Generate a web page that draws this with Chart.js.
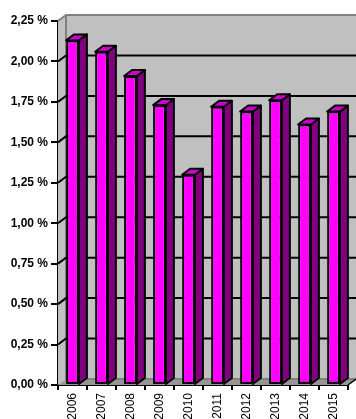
<!DOCTYPE html>
<html>
<head>
<meta charset="utf-8">
<script src="https://cdn.jsdelivr.net/npm/chart.js@4/dist/chart.umd.min.js"></script>
<style>
  html, body { margin: 0; padding: 0; background: #fff; overflow: hidden; }
</style>
</head>
<body>
<canvas id="c" width="356" height="419"></canvas>
<script>
// Data
const years = ['2006', '2007', '2008', '2009', '2010', '2011', '2012', '2013', '2014', '2015'];
const rates = [2.13, 2.06, 1.91, 1.73, 1.30, 1.72, 1.69, 1.76, 1.61, 1.69];
const yTicks = [0, 0.25, 0.5, 0.75, 1, 1.25, 1.5, 1.75, 2, 2.25];

// 3D depth offset
const DX = 8, DY = 6;

const poly = (ctx, pts, fill, stroke, lw) => {
    ctx.beginPath();
    ctx.moveTo(pts[0][0], pts[0][1]);
    for (let i = 1; i < pts.length; i++) ctx.lineTo(pts[i][0], pts[i][1]);
    ctx.closePath();
    if (fill) { ctx.fillStyle = fill; ctx.fill(); }
    if (stroke) { ctx.strokeStyle = stroke; ctx.lineWidth = lw || 1; ctx.stroke(); }
};

// walls, floor and gridlines behind the bars
const wall3d = {
    id: 'wall3d',
    beforeDatasetsDraw(chart) {
        const { ctx, chartArea: a, scales: { y } } = chart;
        const W = chart.width;
        ctx.save();
        // back wall
        ctx.fillStyle = '#c0c0c0';
        ctx.fillRect(a.left + DX, a.top - DY, W - a.left - DX, a.bottom - a.top);
        // left side wall
        poly(ctx, [[a.left, a.top], [a.left + DX, a.top - DY], [a.left + DX, a.bottom - DY], [a.left, a.bottom]], '#c0c0c0');
        // floor
        poly(ctx, [[a.left, a.bottom], [a.left + DX, a.bottom - DY], [W, a.bottom - DY], [a.right, a.bottom]], '#969696');
        // wall edges
        ctx.strokeStyle = '#808080';
        ctx.lineWidth = 2;
        ctx.beginPath();
        ctx.moveTo(a.left, a.top);
        ctx.lineTo(a.left + DX, a.top - DY);
        ctx.lineTo(W, a.top - DY);
        ctx.moveTo(a.left + DX, a.top - DY);
        ctx.lineTo(a.left + DX, a.bottom - DY);
        ctx.lineTo(W, a.bottom - DY);
        ctx.stroke();
        // gridlines
        ctx.strokeStyle = '#000';
        ctx.lineWidth = 2;
        yTicks.forEach(v => {
            if (v === 0 || v === yTicks[yTicks.length - 1]) return;
            const py = y.getPixelForValue(v);
            ctx.beginPath();
            ctx.moveTo(a.left, py);
            ctx.lineTo(a.left + DX, py - DY);
            ctx.lineTo(W, py - DY);
            ctx.stroke();
        });
        // right end of the floor
        ctx.lineWidth = 1.5;
        ctx.beginPath();
        ctx.moveTo(a.right, a.bottom);
        ctx.lineTo(a.right + DX, a.bottom - DY);
        ctx.stroke();
        ctx.restore();
    },
    afterDatasetsDraw(chart) {
        const ctx = chart.ctx;
        const meta = chart.getDatasetMeta(0);
        ctx.save();
        ctx.lineJoin = 'round';
        meta.data.forEach(bar => {
            const { x, y, base, width } = bar.getProps(['x', 'y', 'base', 'width'], true);
            const l = x - width / 2, r = x + width / 2;
            // side face
            poly(ctx, [[r, y], [r + DX, y - DY], [r + DX, base - DY], [r, base]], '#800080', '#000', 2);
            // top face
            poly(ctx, [[l, y], [l + DX, y - DY], [r + DX, y - DY], [r, y]], '#cc00cc', '#000', 2);
        });
        ctx.restore();
    }
};

const ctx = document.getElementById('c').getContext('2d');
new Chart(ctx, {
    type: 'bar',
    data: {
        labels: years,
        datasets: [{
            data: rates,
            backgroundColor: '#ff00ff',
            borderColor: '#000',
            borderWidth: 2,
            borderSkipped: false,
            barPercentage: 0.44,
            categoryPercentage: 1
        }]
    },
    options: {
        responsive: false,
        animation: false,
        devicePixelRatio: 1,
        layout: { padding: { top: 21, right: 8, left: 0, bottom: 0 } },
        plugins: {
            legend: { display: false },
            tooltip: { enabled: false }
        },
        scales: {
            y: {
                min: 0,
                max: 2.25,
                afterFit: s => { s.width = 58; },
                afterBuildTicks: s => { s.ticks = yTicks.map(v => ({ value: v })); },
                ticks: {
                    color: '#000',
                    padding: 3,
                    font: { family: 'Liberation Sans, Arial', size: 12, weight: 'bold' },
                    callback: v => v.toFixed(2).replace('.', ',') + ' %'
                },
                grid: { drawOnChartArea: false, color: '#000', lineWidth: 2, tickLength: 7 },
                border: { color: '#000', width: 2 }
            },
            x: {
                afterFit: s => { s.height = 34; },
                ticks: {
                    color: '#000',
                    padding: 3,
                    minRotation: 90,
                    maxRotation: 90,
                    font: { family: 'Liberation Sans, Arial', size: 12 }
                },
                grid: { offset: true, drawOnChartArea: false, color: '#000', lineWidth: 2, tickLength: 5 },
                border: { color: '#000', width: 2 }
            }
        }
    },
    plugins: [wall3d]
});
</script>
</body>
</html>
